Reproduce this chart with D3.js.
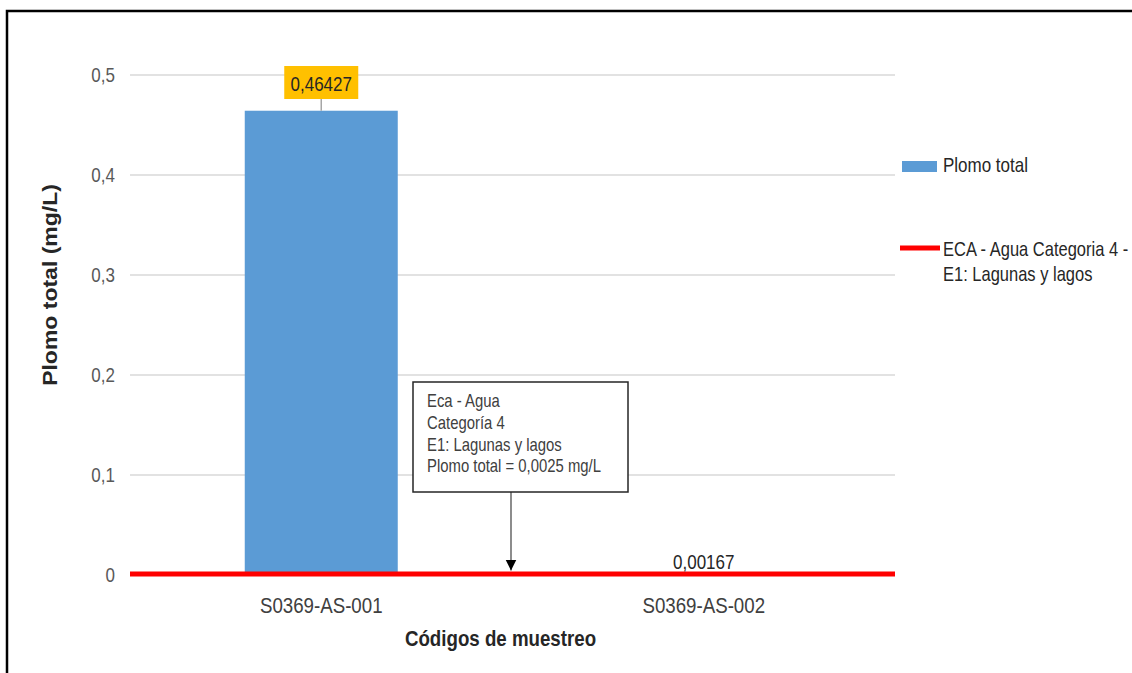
<!DOCTYPE html>
<html lang="es">
<head>
  <meta charset="UTF-8">
  <title>Plomo total</title>
  <script src="https://d3js.org/d3.v7.min.js"></script>
  <style>
    body { margin: 0; background: #fff; }
    text { font-family: "Liberation Sans", Arial, sans-serif; }
  </style>
</head>
<body>
  <script>
    const categories = ["S0369-AS-001", "S0369-AS-002"];
    const plomoTotal = [0.46427, 0.00167];
    const ecaLimit = 0.0025;
    const yTicks = [0, 0.1, 0.2, 0.3, 0.4, 0.5];
    const annotationLines = ["Eca - Agua", "Categoría 4", "E1: Lagunas y lagos", "Plomo total = 0,0025 mg/L"];
    const legendItems = ["Plomo total", ["ECA - Agua Categoria 4 -", "E1: Lagunas y lagos"]];

    const W = 1132, H = 673;
    const plot = {left: 130, right: 895, top: 75, bottom: 575};
    const sx = 0.85; // horizontally condensed look of the original

    const es = d3.formatLocale({decimal: ",", thousands: ".", grouping: [3], currency: ["", ""]});
    const fmtTick = es.format("~g");
    const fmtVal = v => String(v).replace(".", ",");

    const svg = d3.select("body").append("svg")
      .attr("width", W).attr("height", H);

    // outer frame
    svg.append("rect")
      .attr("x", 7).attr("y", 11).attr("width", W + 20).attr("height", H + 20)
      .attr("fill", "none").attr("stroke", "#000").attr("stroke-width", 2.5);

    const x = d3.scaleBand().domain(categories)
      .range([plot.left, plot.right]).paddingInner(0.6).paddingOuter(0.3);
    const y = d3.scaleLinear().domain([0, 0.5]).range([plot.bottom, plot.top]);

    function ctext(g, tx, ty, str, size, anchor) {
      return g.append("text")
        .attr("transform", `translate(${tx},${ty}) scale(${sx},1)`)
        .attr("font-size", size).attr("text-anchor", anchor || "start")
        .text(str);
    }

    // gridlines
    svg.append("g").selectAll("line").data(yTicks.filter(d => d > 0)).join("line")
      .attr("x1", plot.left).attr("x2", plot.right)
      .attr("y1", d => y(d)).attr("y2", d => y(d))
      .attr("stroke", "#d9d9d9").attr("stroke-width", 1.5);

    // y tick labels
    const yAxis = svg.append("g");
    yTicks.forEach(t => {
      ctext(yAxis, 115, y(t) + 7, fmtTick(t), 20, "end").attr("fill", "#595959");
    });

    // bars
    svg.append("g").selectAll("rect").data(plomoTotal).join("rect")
      .attr("x", (d, i) => x(categories[i]))
      .attr("width", x.bandwidth())
      .attr("y", d => y(d))
      .attr("height", d => y(0) - y(d))
      .attr("fill", "#5b9bd5");

    // ECA limit line
    svg.append("line")
      .attr("x1", plot.left).attr("x2", plot.right)
      .attr("y1", y(ecaLimit) + 1.5).attr("y2", y(ecaLimit) + 1.5)
      .attr("stroke", "#ff0000").attr("stroke-width", 5);

    // value labels
    const c0 = x(categories[0]) + x.bandwidth() / 2;
    const c1 = x(categories[1]) + x.bandwidth() / 2;
    svg.append("line")
      .attr("x1", c0).attr("x2", c0).attr("y1", 99).attr("y2", y(plomoTotal[0]))
      .attr("stroke", "#a6a6a6").attr("stroke-width", 1.5);
    svg.append("rect")
      .attr("x", c0 - 37).attr("y", 66).attr("width", 74).attr("height", 33)
      .attr("fill", "#ffc000");
    ctext(svg, c0, 91, fmtVal(plomoTotal[0]), 20, "middle").attr("fill", "#262626");
    ctext(svg, c1, 569, fmtVal(plomoTotal[1]), 20, "middle").attr("fill", "#262626");

    // x tick labels
    categories.forEach(c => {
      ctext(svg, x(c) + x.bandwidth() / 2, 613, c, 22, "middle").attr("fill", "#404040");
    });

    // axis titles
    ctext(svg, (plot.left + plot.right) / 2 - 12, 646, "Códigos de muestreo", 22, "middle")
      .attr("font-weight", "bold").attr("fill", "#262626");
    svg.append("text")
      .attr("transform", `translate(57,285) scale(${sx},1) rotate(-90)`)
      .attr("font-size", 23).attr("font-weight", "bold").attr("text-anchor", "middle")
      .attr("fill", "#262626")
      .text("Plomo total (mg/L)");

    // annotation box with arrow
    svg.append("defs").append("marker")
      .attr("id", "arrow").attr("viewBox", "0 0 10 10")
      .attr("refX", 10).attr("refY", 5)
      .attr("markerWidth", 11).attr("markerHeight", 12)
      .attr("markerUnits", "userSpaceOnUse")
      .attr("orient", "auto")
      .append("path").attr("d", "M0,0 L10,5 L0,10 Z").attr("fill", "#000");
    svg.append("line")
      .attr("x1", 511).attr("x2", 511).attr("y1", 492).attr("y2", y(ecaLimit) - 2)
      .attr("stroke", "#404040").attr("stroke-width", 1.2)
      .attr("marker-end", "url(#arrow)");
    svg.append("rect")
      .attr("x", 413).attr("y", 382).attr("width", 215).attr("height", 110)
      .attr("fill", "#fff").attr("stroke", "#262626").attr("stroke-width", 1.5);
    annotationLines.forEach((t, i) => {
      ctext(svg, 427, 407 + i * 21.8, t, 17.5).attr("fill", "#404040");
    });

    // legend
    const lg = svg.append("g");
    lg.append("rect").attr("x", 902).attr("y", 161).attr("width", 35).attr("height", 11)
      .attr("fill", "#5b9bd5");
    ctext(lg, 943, 172, legendItems[0], 20).attr("fill", "#262626");
    lg.append("line").attr("x1", 900).attr("x2", 940).attr("y1", 248).attr("y2", 248)
      .attr("stroke", "#ff0000").attr("stroke-width", 5);
    legendItems[1].forEach((t, i) => {
      ctext(lg, 943, 256 + i * 25, t, 19.4).attr("fill", "#262626");
    });
  </script>
</body>
</html>
